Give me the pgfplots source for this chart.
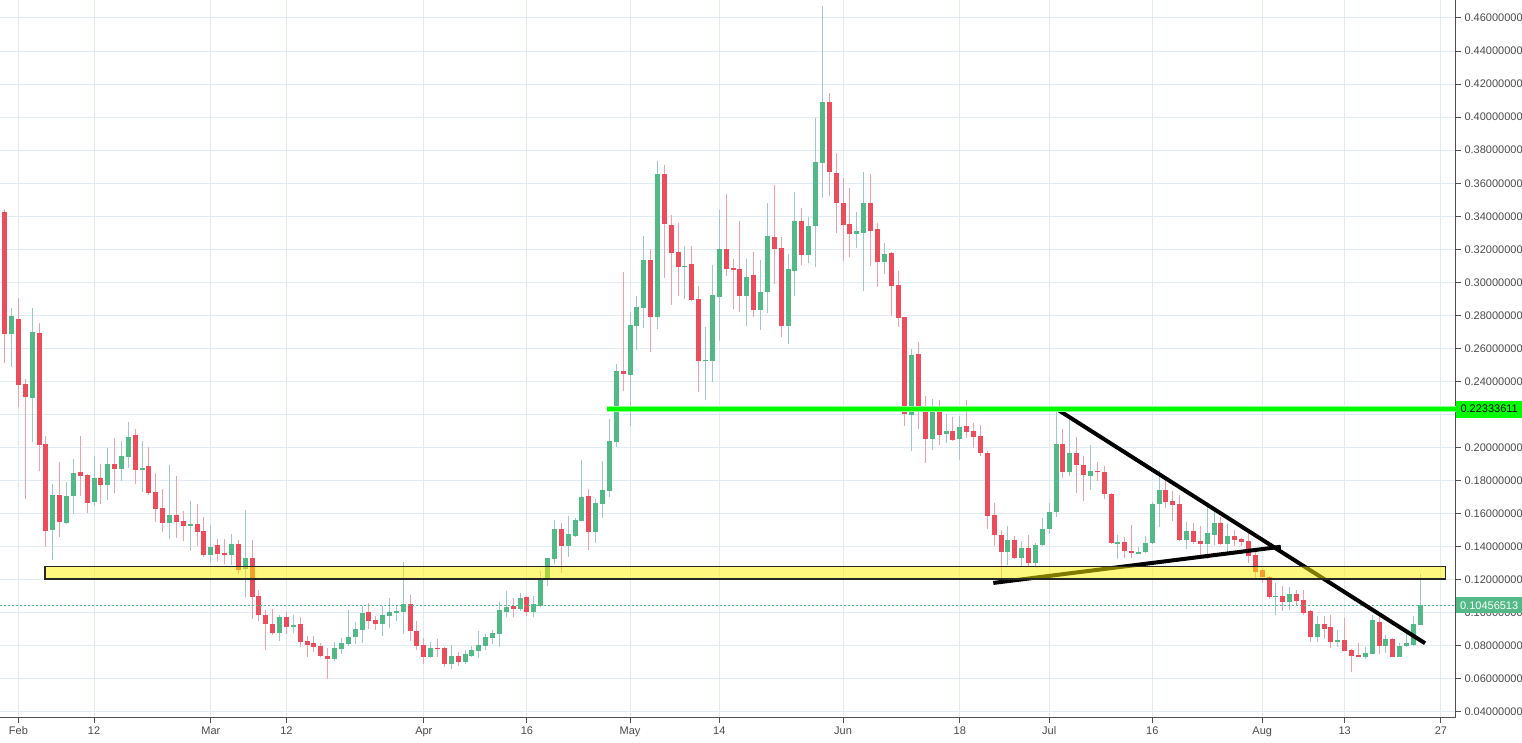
\documentclass[border=0pt]{standalone}
\usepackage{fontspec}
\setmainfont{Liberation Sans}
\usepackage{pgfplots}
\usepackage{pgfplotstable}
\pgfplotsset{compat=1.18}
\definecolor{upc}{RGB}{83,185,135}
\definecolor{dnc}{RGB}{235,77,92}
\definecolor{upw}{RGB}{160,200,202}
\definecolor{dnw}{RGB}{244,160,170}
\definecolor{gridc}{RGB}{225,236,242}
\definecolor{axc}{RGB}{80,80,80}
\definecolor{txc}{RGB}{74,74,74}
\definecolor{hl}{RGB}{0,255,0}
\newcommand{\lbl}{\fontsize{11}{13}\selectfont}
\pgfplotsset{candle/.style={only marks, mark=*, mark size=0pt, mark options={draw=none, fill=none}, forget plot, error bars/.cd, y dir=both, y explicit, error mark=none}}

\pgfplotstableread{
d o h l c
-1 0.2685 0.2842 0.2487 0.2794
2 0.2299 0.2842 0.2032 0.2697
5 0.1499 0.1782 0.1319 0.1715
7 0.1541 0.1794 0.1535 0.1709
8 0.1705 0.1933 0.1598 0.1848
11 0.1673 0.1952 0.1649 0.1818
13 0.1776 0.2000 0.1685 0.1903
15 0.1873 0.2043 0.1800 0.1952
16 0.1945 0.2158 0.1879 0.2067
18 0.1867 0.2043 0.1733 0.1879
22 0.1545 0.1893 0.1448 0.1590
25 0.1525 0.1675 0.1374 0.1535
28 0.1349 0.1529 0.1299 0.1396
31 0.1349 0.1475 0.1289 0.1414
33 0.1265 0.1620 0.1095 0.1329
38 0.0877 0.0990 0.0828 0.0972
40 0.0913 0.0984 0.0877 0.0929
46 0.0719 0.0826 0.0706 0.0790
47 0.0784 0.0848 0.0754 0.0818
48 0.0812 0.1018 0.0800 0.0855
49 0.0855 0.0945 0.0812 0.0903
50 0.0897 0.1042 0.0818 0.1000
53 0.0933 0.1042 0.0861 0.0988
54 0.0982 0.1091 0.0909 0.1006
55 0.1000 0.1048 0.0952 0.1012
56 0.1006 0.1309 0.0873 0.1055
60 0.0733 0.0824 0.0727 0.0788
63 0.0691 0.0806 0.0661 0.0739
65 0.0703 0.0776 0.0691 0.0752
66 0.0739 0.0800 0.0733 0.0776
67 0.0770 0.0891 0.0727 0.0806
68 0.0800 0.0873 0.0776 0.0855
69 0.0848 0.0897 0.0812 0.0879
70 0.0873 0.1067 0.0794 0.1018
71 0.1006 0.1133 0.0976 0.1036
73 0.1024 0.1121 0.1012 0.1091
75 0.1004 0.1105 0.0974 0.1051
76 0.1040 0.1251 0.1034 0.1200
77 0.1196 0.1335 0.1162 0.1329
78 0.1327 0.1560 0.1293 0.1505
80 0.1402 0.1584 0.1341 0.1475
81 0.1463 0.1572 0.1457 0.1560
82 0.1557 0.1923 0.1553 0.1699
84 0.1487 0.1687 0.1420 0.1663
85 0.1657 0.1917 0.1572 0.1741
86 0.1735 0.2172 0.1699 0.2038
87 0.2032 0.2505 0.2002 0.2463
89 0.2440 0.2820 0.2129 0.2741
90 0.2735 0.2917 0.2590 0.2851
91 0.2844 0.3281 0.2723 0.3135
93 0.2790 0.3735 0.2717 0.3657
97 0.3095 0.3220 0.2897 0.3099
100 0.2525 0.2729 0.2287 0.2531
101 0.2525 0.3105 0.2398 0.2923
102 0.2913 0.3438 0.2646 0.3202
106 0.2919 0.3141 0.2737 0.3032
108 0.2834 0.3135 0.2710 0.2941
109 0.2941 0.3481 0.2816 0.3281
112 0.2737 0.3172 0.2628 0.3081
113 0.3071 0.3547 0.2915 0.3372
115 0.3168 0.3396 0.3119 0.3341
116 0.3343 0.3996 0.3095 0.3729
117 0.3725 0.4675 0.3513 0.4093
122 0.3293 0.3426 0.3208 0.3311
123 0.3299 0.3669 0.2947 0.3481
126 0.3123 0.3238 0.3051 0.3172
130 0.2196 0.2596 0.1978 0.2560
133 0.2050 0.2293 0.1984 0.2232
135 0.2081 0.2202 0.2026 0.2099
137 0.2050 0.2190 0.1923 0.2123
144 0.1366 0.1527 0.1287 0.1442
146 0.1335 0.1436 0.1275 0.1394
148 0.1299 0.1424 0.1275 0.1412
149 0.1412 0.1576 0.1405 0.1509
150 0.1505 0.1667 0.1479 0.1612
151 0.1608 0.2242 0.1578 0.2024
153 0.1850 0.2182 0.1826 0.1966
156 0.1828 0.2016 0.1741 0.1861
160 0.1420 0.1473 0.1323 0.1428
163 0.1360 0.1400 0.1355 0.1370
164 0.1366 0.1467 0.1360 0.1424
165 0.1420 0.1673 0.1415 0.1661
166 0.1657 0.1867 0.1521 0.1745
170 0.1438 0.1547 0.1384 0.1493
173 0.1414 0.1657 0.1323 0.1481
174 0.1469 0.1638 0.1408 0.1541
176 0.1418 0.1535 0.1366 0.1463
183 0.1093 0.1178 0.0984 0.1105
185 0.1063 0.1154 0.1020 0.1117
189 0.0851 0.0978 0.0826 0.0935
192 0.0826 0.0899 0.0796 0.0838
196 0.0735 0.0796 0.0723 0.0760
197 0.0754 0.0984 0.0752 0.0954
199 0.0802 0.0863 0.0760 0.0844
201 0.0735 0.0820 0.0733 0.0802
202 0.0798 0.0905 0.0796 0.0820
203 0.0808 0.0978 0.0802 0.0935
204 0.0929 0.1238 0.0927 0.1046
}\up

\pgfplotstableread{
d o h l c
-2 0.3424 0.3442 0.2515 0.2685
0 0.2776 0.2905 0.2248 0.2376
1 0.2382 0.2418 0.1691 0.2305
3 0.2691 0.2752 0.1857 0.2018
4 0.2024 0.2073 0.1396 0.1493
6 0.1715 0.1915 0.1457 0.1547
9 0.1855 0.2073 0.1709 0.1830
10 0.1836 0.1842 0.1606 0.1667
12 0.1818 0.1903 0.1661 0.1776
14 0.1903 0.2061 0.1727 0.1873
17 0.2079 0.2115 0.1782 0.1867
19 0.1891 0.2006 0.1715 0.1727
20 0.1733 0.1848 0.1552 0.1630
21 0.1636 0.1752 0.1491 0.1545
23 0.1590 0.1826 0.1453 0.1549
24 0.1554 0.1614 0.1434 0.1525
26 0.1535 0.1657 0.1404 0.1489
27 0.1493 0.1578 0.1337 0.1349
29 0.1408 0.1444 0.1313 0.1356
30 0.1360 0.1444 0.1295 0.1349
32 0.1414 0.1438 0.1234 0.1259
34 0.1329 0.1438 0.0962 0.1095
35 0.1099 0.1141 0.0949 0.0986
36 0.0990 0.1020 0.0774 0.0931
37 0.0935 0.1026 0.0865 0.0877
39 0.0972 0.1008 0.0871 0.0913
41 0.0935 0.0972 0.0792 0.0822
42 0.0828 0.0859 0.0731 0.0804
43 0.0816 0.0859 0.0762 0.0792
44 0.0798 0.0816 0.0731 0.0737
45 0.0737 0.0786 0.0598 0.0719
51 0.1006 0.1061 0.0903 0.0952
52 0.0958 0.0982 0.0897 0.0933
57 0.1055 0.1109 0.0830 0.0891
58 0.0891 0.0952 0.0776 0.0800
59 0.0806 0.0848 0.0691 0.0733
61 0.0788 0.0842 0.0733 0.0784
62 0.0788 0.0794 0.0673 0.0691
64 0.0739 0.0764 0.0679 0.0703
72 0.1042 0.1091 0.0976 0.1024
74 0.1093 0.1105 0.0980 0.1004
79 0.1505 0.1541 0.1244 0.1402
83 0.1705 0.1747 0.1378 0.1487
88 0.2463 0.3063 0.2341 0.2446
92 0.3135 0.3202 0.2578 0.2790
94 0.3657 0.3711 0.3026 0.3356
95 0.3347 0.3408 0.2861 0.3180
96 0.3184 0.3360 0.2915 0.3095
98 0.3111 0.3220 0.2890 0.2895
99 0.2899 0.2978 0.2337 0.2525
103 0.3202 0.3535 0.3040 0.3083
104 0.3087 0.3141 0.2840 0.3077
105 0.3081 0.3372 0.2822 0.2919
107 0.3044 0.3184 0.2792 0.2834
110 0.3275 0.3590 0.2992 0.3204
111 0.3208 0.3275 0.2671 0.2737
114 0.3372 0.3451 0.3107 0.3168
118 0.4093 0.4147 0.3525 0.3665
119 0.3663 0.3780 0.3301 0.3483
120 0.3483 0.3632 0.3129 0.3347
121 0.3354 0.3572 0.3154 0.3293
124 0.3481 0.3657 0.3099 0.3311
125 0.3323 0.3360 0.2972 0.3123
127 0.3178 0.3184 0.2796 0.2978
128 0.2984 0.3069 0.2729 0.2784
129 0.2790 0.2790 0.2129 0.2202
131 0.2566 0.2638 0.2111 0.2220
132 0.2220 0.2311 0.1905 0.2050
134 0.2232 0.2287 0.2014 0.2075
136 0.2099 0.2184 0.2040 0.2044
138 0.2129 0.2287 0.2057 0.2093
139 0.2099 0.2147 0.1996 0.2063
140 0.2069 0.2135 0.1947 0.1966
141 0.1966 0.1978 0.1505 0.1584
142 0.1590 0.1663 0.1402 0.1469
143 0.1473 0.1503 0.1202 0.1366
145 0.1442 0.1467 0.1325 0.1329
147 0.1394 0.1473 0.1281 0.1299
152 0.2024 0.2115 0.1814 0.1850
154 0.1966 0.2063 0.1723 0.1893
155 0.1897 0.1952 0.1675 0.1832
157 0.1861 0.1915 0.1796 0.1850
158 0.1855 0.1891 0.1687 0.1717
159 0.1721 0.1725 0.1414 0.1420
161 0.1430 0.1461 0.1329 0.1372
162 0.1376 0.1533 0.1335 0.1366
167 0.1745 0.1812 0.1632 0.1669
168 0.1675 0.1735 0.1554 0.1653
169 0.1657 0.1711 0.1435 0.1438
171 0.1493 0.1541 0.1414 0.1426
172 0.1432 0.1523 0.1347 0.1414
175 0.1541 0.1578 0.1410 0.1414
177 0.1463 0.1499 0.1402 0.1438
178 0.1444 0.1450 0.1402 0.1426
179 0.1432 0.1481 0.1299 0.1347
180 0.1353 0.1384 0.1202 0.1246
181 0.1257 0.1269 0.1178 0.1214
182 0.1220 0.1222 0.1081 0.1093
184 0.1105 0.1160 0.1014 0.1063
186 0.1117 0.1141 0.1050 0.1072
187 0.1075 0.1141 0.0990 0.1002
188 0.1014 0.1016 0.0826 0.0851
190 0.0935 0.0984 0.0844 0.0905
191 0.0917 0.0990 0.0790 0.0826
193 0.0838 0.0966 0.0770 0.0772
194 0.0778 0.0784 0.0644 0.0741
195 0.0747 0.0820 0.0733 0.0735
198 0.0947 0.1002 0.0754 0.0802
200 0.0844 0.0846 0.0733 0.0735
}\dn

\begin{document}
\begin{tikzpicture}
\begin{axis}[
  at={(0pt,25pt)}, anchor=south west,
  width=1456pt, height=718pt, scale only axis,
  xmin=-2.68, xmax=209.2, ymin=0.03637, ymax=0.4709,
  axis x line*=bottom, axis y line*=right,
  axis line style={draw=axc, line width=1pt, -},
  xtick={0,11,28,39,59,74,89,102,120,137,150,165,181,193,207},
  xticklabels={Feb,12,Mar,12,Apr,16,May,14,Jun,18,Jul,16,Aug,13,27},
  ytick={0.04,0.06,0.08,0.10,0.12,0.14,0.16,0.18,0.20,0.22,0.24,0.26,0.28,0.30,0.32,0.34,0.36,0.38,0.40,0.42,0.44,0.46},
  scaled y ticks=false,
  /pgf/number format/assume math mode=true,
  yticklabel style={/pgf/number format/.cd, fixed, fixed zerofill, precision=8, /tikz/.cd, font=\lbl, text=txc},
  xticklabel style={font=\lbl, text=txc},
  grid=major, major grid style={draw=gridc, line width=1pt},
  tick align=outside, major tick length=5pt,
  tick style={draw=axc, line width=1pt},
  clip=false,
]
% wicks
\addplot[candle, error bar style={line width=1pt, draw=upw}]
  table[x=d, y expr=(\thisrow{h}+\thisrow{l})/2, y error expr=(\thisrow{h}-\thisrow{l})/2] {\up};
\addplot[candle, error bar style={line width=1pt, draw=dnw}]
  table[x=d, y expr=(\thisrow{h}+\thisrow{l})/2, y error expr=(\thisrow{h}-\thisrow{l})/2] {\dn};
% bodies
\addplot[candle, error bar style={line width=5pt, draw=upc}]
  table[x=d, y expr=(\thisrow{o}+\thisrow{c})/2, y error expr={max(abs(\thisrow{c}-\thisrow{o})/2,0.0003)}] {\up};
\addplot[candle, error bar style={line width=5pt, draw=dnc}]
  table[x=d, y expr=(\thisrow{o}+\thisrow{c})/2, y error expr={max(abs(\thisrow{c}-\thisrow{o})/2,0.0003)}] {\dn};
% current price dotted line
\addplot[upc, line width=1pt, dash pattern=on 2pt off 2pt] coordinates {(-2.68,0.10456513) (209.2,0.10456513)};
% trend lines
\addplot[black, line width=4pt] coordinates {(150.85,0.2240) (204.7,0.0816)};
\addplot[black, line width=4pt] coordinates {(141.87,0.1181) (183.7,0.1400)};
% resistance line
\addplot[hl!45, line width=6pt] coordinates {(85.6,0.22333611) (209.2,0.22333611)};
\addplot[hl, line width=3.5pt] coordinates {(85.6,0.22333611) (209.2,0.22333611)};
% support zone
\addplot[fill=yellow, fill opacity=0.5, draw=black!85, line width=1.5pt] coordinates {(3.87,0.1205) (207.7,0.1205) (207.7,0.1280) (3.87,0.1280)} -- cycle;
% price labels
\node[fill=hl, text=black, anchor=west, inner sep=0pt, minimum height=17pt, minimum width=66pt, font=\lbl] at (axis cs:209.2,0.22333611) {0.22333611};
\node[fill=upc, text=white, anchor=west, inner sep=0pt, minimum height=16pt, minimum width=66pt, font=\lbl] at (axis cs:209.2,0.10456513) {0.10456513};
\end{axis}
\pgfresetboundingbox
\path[use as bounding box] (0,0) rectangle (1522pt,743pt);
\end{tikzpicture}
\end{document}
